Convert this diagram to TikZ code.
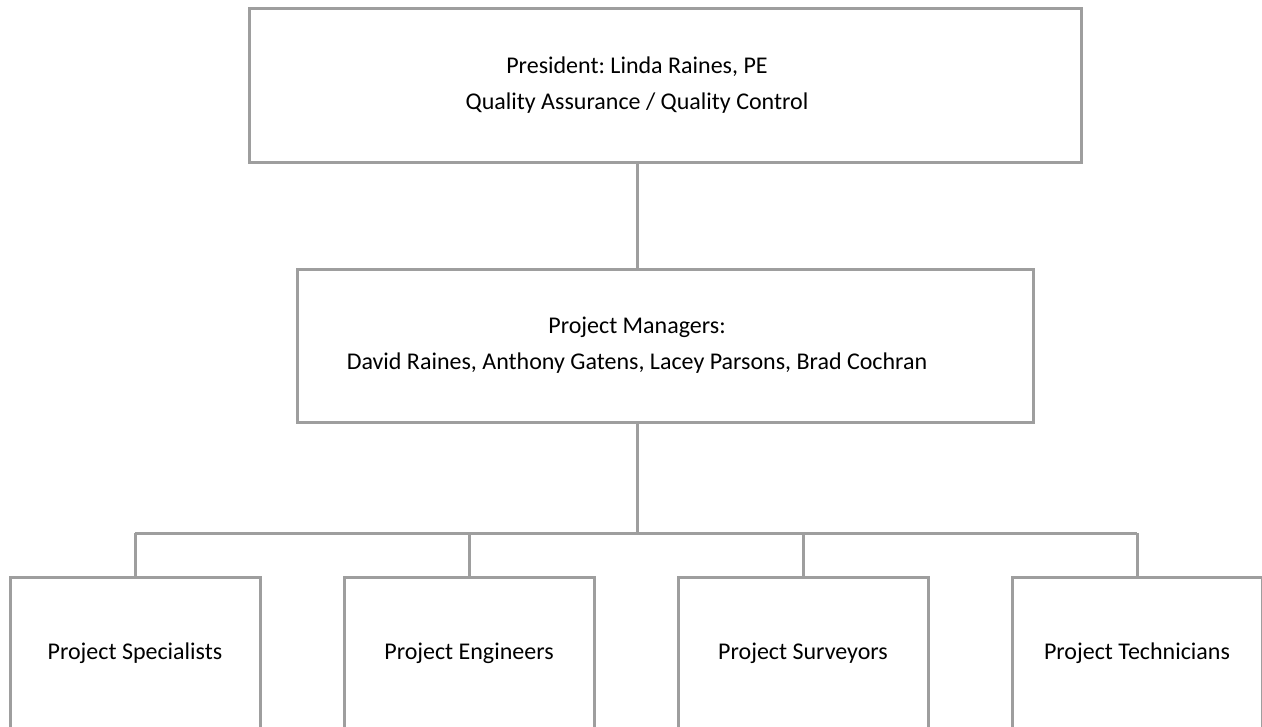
\documentclass[tikz,border=0pt]{standalone}
\usepackage{fontspec}
\setmainfont{Carlito}
\usepackage{tikz}
\usetikzlibrary{positioning}
\definecolor{boxgray}{RGB}{158,158,158}
\tikzset{>=stealth,node distance=60.75pt}
\tikzset{orgbox/.style={draw=boxgray,line width=2.25pt,rectangle,inner sep=0pt}}
\tikzset{orgtext/.style={align=center,font=\fontsize{18}{27}\selectfont,inner sep=0pt}}
\tikzset{roleline/.style={draw=boxgray,line width=2.25pt}}

\begin{document}
\frenchspacing
\begin{tikzpicture}[x=0.75pt,y=-0.75pt]
    \clip (0,0) rectangle (1262,726);
    \coordinate (trunk) at (637,0);
    \coordinate (bus) at (637,533);
    \node[orgbox,minimum width=624pt,minimum height=115.5pt] (pres) at (665,85) {};
    \node[orgtext] (presLbl) at (pres.center -| trunk)
        {President: Linda Raines, PE\\Quality Assurance / Quality Control};
    \node[orgbox,minimum width=552pt,minimum height=114.75pt] (mgr) at (665,345.5) {};
    \node[orgtext] (mgrLbl) at (mgr.center -| trunk)
        {Project Managers:\\David Raines, Anthony Gatens, Lacey Parsons, Brad Cochran};
    \node[orgbox,orgtext,minimum width=187.5pt,minimum height=114.75pt] (spec) at (135,653.5) {Project Specialists};
    \node[orgbox,orgtext,minimum width=187.5pt,minimum height=114.75pt] (eng)  [right=of spec] {Project Engineers};
    \node[orgbox,orgtext,minimum width=187.5pt,minimum height=114.75pt] (surv) [right=of eng]  {Project Surveyors};
    \node[orgbox,orgtext,minimum width=187.5pt,minimum height=114.75pt] (tech) [right=of surv] {Project Technicians};
    \path[roleline]
        (pres.south -| trunk) -- (mgr.north -| trunk)
        (mgr.south -| bus) -- (bus)
        (bus -| spec.north) -- (bus -| tech.north)
        (spec.north) -- (spec.north |- bus)
        (eng.north) -- (eng.north |- bus)
        (surv.north) -- (surv.north |- bus)
        (tech.north) -- (tech.north |- bus);
\end{tikzpicture}
\end{document}
